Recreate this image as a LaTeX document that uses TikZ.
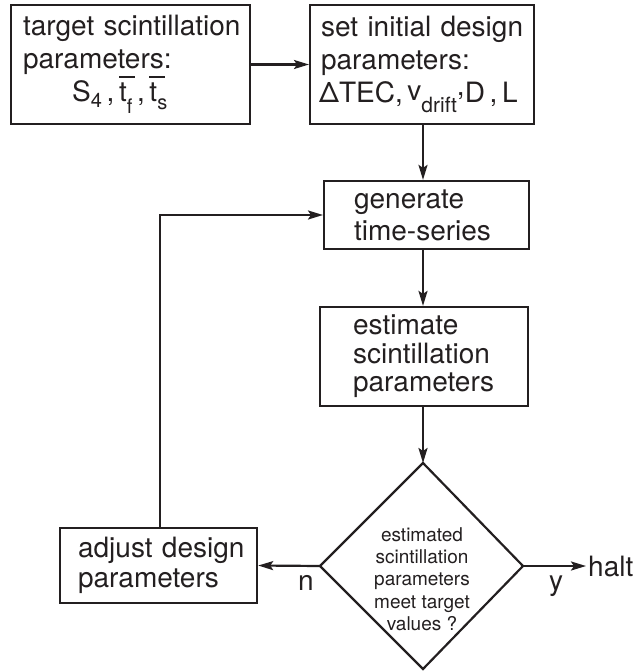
\documentclass[tikz,border=0pt]{standalone}
\usepackage{fontspec}
\setmainfont{TeX Gyre Heros}
\usetikzlibrary{arrows.meta}
\definecolor{ink}{HTML}{231F20}
\newcommand\tbar{\makebox[0pt][l]{\rule[24pt]{16pt}{1.8pt}}t}
\newcommand\lowsub[2]{\raisebox{-#1}{\fontsize{20}{20}\selectfont #2}}
\begin{document}
\begin{tikzpicture}[x=1pt,y=-1pt,
  every node/.style={text=ink},
  box/.style={draw=ink, line width=2.2pt, inner ysep=0pt, align=left, anchor=west},
  big/.style={font=\fontsize{28}{33}\selectfont},
  conn/.style={draw=ink, line width=2.2pt},
  arr/.style={conn, -{Stealth[length=15pt,width=9pt,inset=3pt]}}]
\useasboundingbox (0,0) rectangle (636,671);

\node[box, font=\fontsize{28}{33}\selectfont, inner xsep=12pt, text width=215pt, minimum width=239pt, minimum height=119pt] (b1) at (10,64.5)
  {\mbox{target scintillation}\\ \mbox{parameters:}\\ \mbox{\hspace*{49pt}S\lowsub{6pt}{4}\,,\,\tbar\lowsub{12pt}{f}\,,\,\tbar\lowsub{8pt}{s}}};

\node[box, big, inner xsep=11pt, text width=202pt, minimum width=224pt, minimum height=119pt] (b2) at (309,64.5)
  {\mbox{set initial design}\\ \mbox{parameters:}\\ \mbox{\kern-2pt ΔTEC,\,\raisebox{2pt}{v}\raisebox{-10pt}{\fontsize{21}{21}\selectfont drift}\raisebox{7pt}{,}D\,,\,L}};

\node[box, font=\fontsize{28}{32}\selectfont, inner xsep=30pt, text width=145pt, minimum width=205pt, minimum height=68pt] (b3) at (323,215)
  {\mbox{generate}\\ \mbox{time-series}};

\node[box, font=\fontsize{28}{28.5}\selectfont, inner xsep=33pt, text width=142pt, minimum width=208pt, minimum height=99pt] (b4) at (319,356.5)
  {\mbox{estimate}\\ \mbox{scintillation}\\ \mbox{parameters}};

\node[box, font=\fontsize{28}{30}\selectfont, inner xsep=18pt, text width=161pt, minimum width=197pt, minimum height=75pt] (ab) at (59,565.5)
  {\mbox{adjust design}\\ \mbox{parameters}};

\coordinate (dt) at (423,463);
\coordinate (dr) at (523,566);
\coordinate (db) at (423,669);
\coordinate (dl) at (320,566);
\draw[conn, line join=miter] (dt) -- (dr) -- (db) -- (dl) -- cycle;
\node[align=center, font=\fontsize{19}{22.3}\selectfont, inner sep=0pt] (dq) at (422,579)
  {estimated\\ scintillation\\ parameters\\ meet target\\ values ?};

\node[big, anchor=west, inner sep=2pt] (halt) at (586,566) {halt};
\node[big, anchor=base, inner sep=0pt] (ln) at (306,590) {n};
\node[big, anchor=base, inner sep=0pt] (ly) at (556,590) {y};

\draw[arr] (b1.east) -- (b2.west);
\draw[arr] (b2.south -| 423,0) -- (b3.north -| 423,0);
\draw[arr] (b3.south -| 423,0) -- (b4.north -| 423,0);
\draw[arr] (b4.south -| dt) -- (dt);
\draw[arr] (dl) -- (ab.east);
\draw[arr] (dr) -- (halt.west);
\draw[arr] (ab.north -| 160,0) |- (b3.west);
\end{tikzpicture}
\end{document}
